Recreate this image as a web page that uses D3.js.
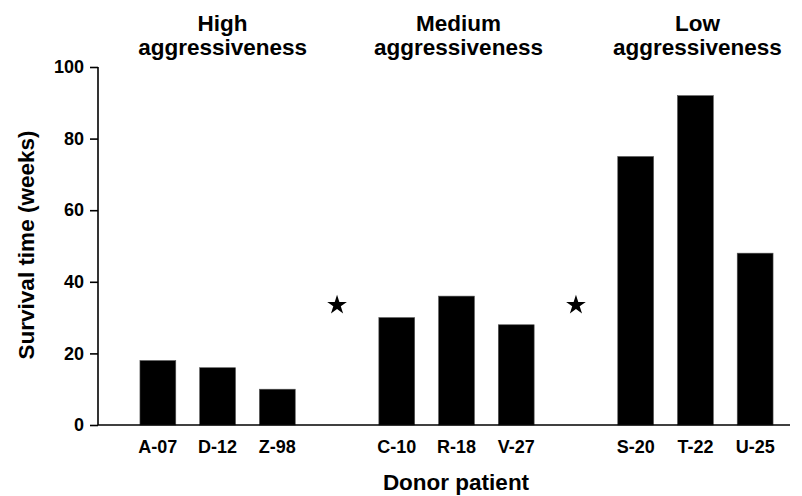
<!DOCTYPE html>
<html><head><meta charset="utf-8">
<script src="https://cdn.jsdelivr.net/npm/d3@7"></script>
<style>body{margin:0;background:#fff}text{font-family:"Liberation Sans",Arial,sans-serif;font-weight:bold;fill:#000}</style>
</head><body><svg id="c" width="802" height="496"></svg>
<script>
const slots = ["A-07","D-12","Z-98","gap1","C-10","R-18","V-27","gap2","S-20","T-22","U-25"];
const patients = ["A-07","D-12","Z-98","C-10","R-18","V-27","S-20","T-22","U-25"];
const survival = [18,16,10,30,36,28,75,92,48];
const starSlots = ["gap1","gap2"];
const starValues = [33.5,33.5];
const groupTitles = [["High","aggressiveness"],["Medium","aggressiveness"],["Low","aggressiveness"]];
const groupCenters = ["D-12","R-18","T-22"];
const yTicks = [0,20,40,60,80,100];

const svg = d3.select("#c");
const x = d3.scaleBand().domain(slots).range([128,785]).paddingInner(0.4).paddingOuter(0.2);
const y = d3.scaleLinear().domain([0,100]).range([425,67]);
const FONT = "'Liberation Sans',Arial,sans-serif";

svg.selectAll("rect.bar").data(patients).enter().append("rect")
  .attr("class","bar")
  .attr("x",d=>x(d)).attr("width",x.bandwidth())
  .attr("y",(d,i)=>y(survival[i])).attr("height",(d,i)=>y(0)-y(survival[i]))
  .attr("fill","#000").attr("stroke","#555").attr("stroke-width",0.6);

// y axis
const ya = svg.append("g").attr("transform","translate(98,0)")
  .call(d3.axisLeft(y).tickValues(yTicks).tickSize(8).tickPadding(6));
ya.select(".domain").attr("stroke","#000").attr("stroke-width",1.6).attr("d",`M0,${y(100)}V${y(0)}`);
ya.selectAll(".tick line").attr("stroke","#000").attr("stroke-width",1.6);
ya.selectAll(".tick text").style("font-size","18px").style("font-family",FONT).style("font-weight","bold").attr("fill","#000");

// x axis
const xa = svg.append("g").attr("transform",`translate(0,${y(0)})`)
  .call(d3.axisBottom(x).tickValues(patients).tickSize(0).tickPadding(15));
xa.select(".domain").attr("stroke","#000").attr("stroke-width",1.6).attr("d","M98,0H790");
xa.selectAll(".tick text").style("font-size","18px").style("font-family",FONT).style("font-weight","bold").attr("fill","#000");

// stars
const star = d3.symbol().type(d3.symbolStar).size(120);
svg.selectAll("path.star").data(starSlots).enter().append("path")
  .attr("class","star").attr("d",star)
  .attr("transform",(d,i)=>`translate(${x(d)+x.bandwidth()/2},${y(starValues[i])})`)
  .attr("fill","#000");

// group titles
groupTitles.forEach((t,i)=>{
  const cx = x(groupCenters[i])+x.bandwidth()/2 + (i===0?5:2);
  t.forEach((line,j)=>{
    svg.append("text").attr("x",cx).attr("y",31+j*24).attr("text-anchor","middle")
      .style("font-size","22.5px").text(line);
  });
});

// axis titles
svg.append("text").attr("transform","translate(34,245) rotate(-90)").attr("text-anchor","middle")
  .style("font-size","22.5px").text("Survival time (weeks)");
svg.append("text").attr("x",456).attr("y",490).attr("text-anchor","middle")
  .style("font-size","22.5px").text("Donor patient");
</script></body></html>
